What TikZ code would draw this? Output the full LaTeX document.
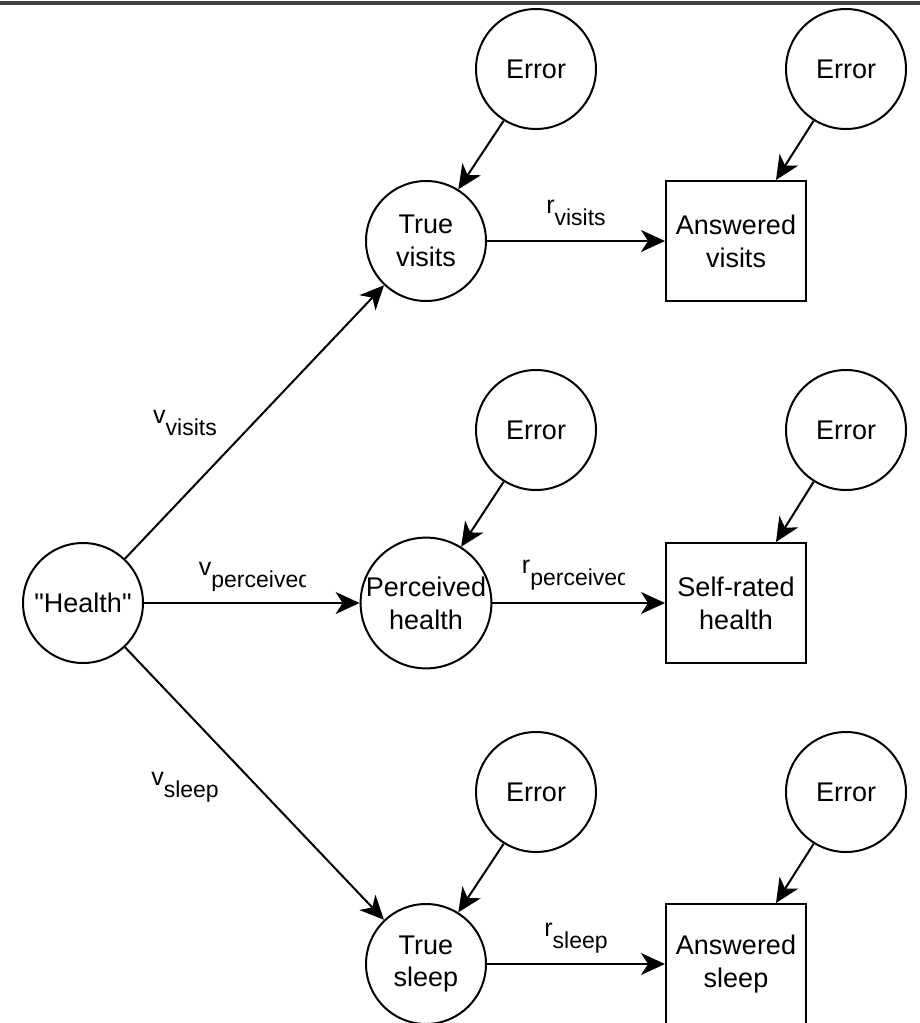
\documentclass[tikz,border=0pt]{standalone}
\usepackage{fontspec}
\setmainfont{Liberation Sans}
\usetikzlibrary{arrows.meta,calc}

\tikzset{
  var/.style={draw,circle,line width=1pt,minimum size=60pt,inner sep=0pt,
    align=center,font=\fontsize{13.5}{16.5}\selectfont},
  obs/.style={draw,rectangle,line width=1pt,minimum width=70pt,minimum height=60pt,
    inner sep=0pt,align=center,font=\fontsize{13.5}{16.5}\selectfont},
  arr/.style={line width=1pt,-{Stealth[length=12pt,width=11pt,inset=3.5pt]}},
  coef/.style={inner sep=0pt,anchor=base,font=\fontsize{12.5}{14}\selectfont},
}
\newcommand{\lsub}[1]{\raisebox{-6pt}{\fontsize{11.5}{13}\selectfont #1}}

\begin{document}
\begin{tikzpicture}[x=0.5pt,y=-0.5pt]
  \useasboundingbox (0,0) rectangle (920,1023);
  \clip (0,0) rectangle (920,1023);
  \draw[line width=2pt,black!75] (0,3) -- (920,3);
  % latent variable
  \node[var] (health) at (83,603) {\textquotedbl Health\textquotedbl};
  % true values and answers
  \node[var] (tvis) at (426,241) {True\\visits};
  \node[obs] (avis) at (736,241) {Answered\\visits};
  \node[var] (perc) at (426,603) {Perceived\\health};
  \node[obs] (srh)  at (736,603) {Self-rated\\health};
  \node[var] (tslp) at (426,964) {True\\sleep};
  \node[obs] (aslp) at (736,964) {Answered\\sleep};
  % errors, arrows
  \foreach \n/\y/\t/\o in {1/69/tvis/avis,2/430/perc/srh,3/792/tslp/aslp}{
    \node[var] (ea\n) at (536,\y) {Error};
    \node[var] (eb\n) at (846,\y) {Error};
    \draw[arr] (ea\n.238) -- (\t.58);
    \draw[arr] (eb\n.238) -- ($(\o.north)+(40,0)$);
    \draw[arr] (health) -- (\t);
    \draw[arr] (\t) -- (\o);
  }
  % coefficients
  \node[coef] (vvis) at (185,423) {v\lsub{visits}};
  \node[coef] (vslp) at (185,785) {v\lsub{sleep}};
  \node[coef] (rvis) at (576,213) {r\lsub{visits}};
  \node[coef] (rslp) at (576,936) {r\lsub{sleep}};
  \begin{scope}
    \clip (150,530) rectangle (305,590);
    \node[coef] (vperc) at (255,575) {v\lsub{perceived}};
  \end{scope}
  \begin{scope}
    \clip (480,530) rectangle (624,590);
    \node[coef] (rperc) at (576,573) {r\lsub{perceived}};
  \end{scope}
\end{tikzpicture}
\end{document}
